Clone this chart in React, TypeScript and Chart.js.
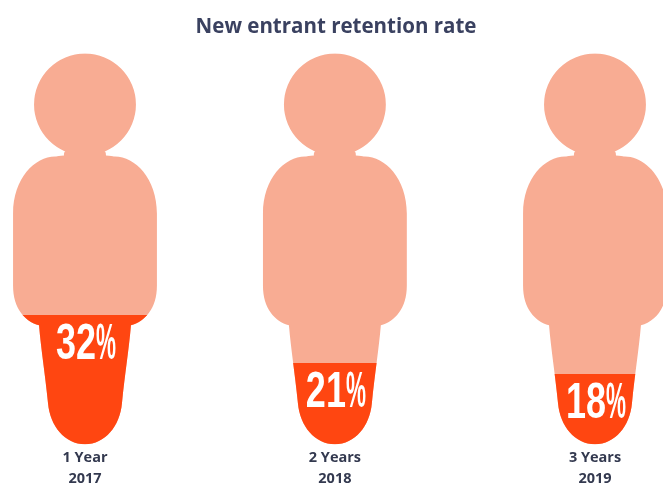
import React, { useEffect, useRef } from "react";
import { Chart, registerables } from "chart.js";

Chart.register(...registerables);

const TITLE = "New entrant retention rate";
const CATEGORY_LABELS = [["1 Year", "2017"], ["2 Years", "2018"], ["3 Years", "2019"]];
const VALUE_LABELS = ["32%", "21%", "18%"];
const SLOTS = [0, 0.98, 2];
const FILL_LEVELS = [33, 20.7, 17.9];
const WHOLE = [100, 100, 100];

const H = 391;

function addPerson(ctx: CanvasRenderingContext2D, cx: number, top: number, k: number) {
  const X = (d: number) => cx + d * k;
  const Y = (d: number) => top + d * k;
  ctx.moveTo(X(51), Y(51));
  ctx.arc(X(0), Y(51), 51 * k, 0, Math.PI * 2);
  ctx.closePath();
  const right: number[][] = [
    [21, 97, 21, 97, 21, 102],
    [30, 103, 30, 103, 30, 103],
    [50, 103, 72, 125, 72, 160],
    [72, 180, 72, 210, 72, 232],
    [72, 255, 60, 268, 46, 272],
    [44, 296, 40, 320, 37, 350],
    [35, 373, 20, 391, 0, 391],
  ];
  ctx.moveTo(X(0), Y(97));
  for (const s of right) ctx.bezierCurveTo(X(s[0]), Y(s[1]), X(s[2]), Y(s[3]), X(s[4]), Y(s[5]));
  const pts = [[0, 97], ...right.map((s) => [s[4], s[5]])];
  for (let i = right.length - 1; i >= 0; i--) {
    const s = right[i];
    ctx.bezierCurveTo(X(-s[2]), Y(s[3]), X(-s[0]), Y(s[1]), X(-pts[i][0]), Y(pts[i][1]));
  }
  ctx.closePath();
}

function drawValue(ctx: CanvasRenderingContext2D, text: string, x: number, y: number) {
  const digits = text.replace("%", "");
  const dScale = 0.72;
  const pScale = 0.45;
  ctx.fillStyle = "#ffffff";
  ctx.font = 'bold 50px "Liberation Sans"';
  ctx.textAlign = "left";
  ctx.textBaseline = "middle";
  const dw = ctx.measureText(digits).width * dScale;
  const pw = ctx.measureText("%").width * pScale;
  const left = x + 1 - (dw + pw) / 2;
  ctx.save();
  ctx.translate(left, y);
  ctx.scale(dScale, 1);
  ctx.fillText(digits, 0, 0);
  ctx.restore();
  ctx.save();
  ctx.translate(left + dw, y);
  ctx.scale(pScale, 1);
  ctx.fillText("%", 0, 0);
  ctx.restore();
}

const personClip = {
  id: "personClip",
  beforeDatasetsDraw(chart: any) {
    const { ctx, scales } = chart;
    const top = scales.y.getPixelForValue(100);
    const k = (scales.y.getPixelForValue(0) - top) / H;
    ctx.save();
    ctx.beginPath();
    chart.getDatasetMeta(1).data.forEach((bar: any) => addPerson(ctx, bar.x, top, k));
    ctx.clip();
  },
  afterDatasetsDraw(chart: any) {
    const { ctx } = chart;
    ctx.restore();
    chart.getDatasetMeta(0).data.forEach((bar: any, i: number) => {
      drawValue(ctx, VALUE_LABELS[i], bar.x, bar.y + 30);
    });
  },
};

export default function App() {
  const ref = useRef<HTMLCanvasElement>(null);
  useEffect(() => {
    const chart = new Chart(ref.current!, {
      type: "bar",
      data: {
        datasets: [
          {
            label: "Retained",
            data: SLOTS.map((x, i) => ({ x, y: FILL_LEVELS[i] })),
            backgroundColor: "#FF4611",
            grouped: false,
            barThickness: 146,
            clip: false,
          },
          {
            label: "Entrants",
            data: SLOTS.map((x, i) => ({ x, y: WHOLE[i] })),
            backgroundColor: "#F8AC93",
            grouped: false,
            barThickness: 146,
            clip: false,
          },
        ],
      } as any,
      options: {
        responsive: false,
        animation: false,
        layout: { padding: { left: 9, right: 0, top: 0, bottom: -6 } },
        plugins: {
          legend: { display: false },
          tooltip: { enabled: false },
          title: {
            display: true,
            text: TITLE,
            color: "#3A4160",
            font: { family: "Open Sans", size: 20.5, weight: "bold" },
            padding: { top: 15, bottom: 14 },
          },
        },
        scales: {
          x: {
            type: "linear",
            offset: false,
            min: -0.298,
            max: 2.2667,
            grid: { display: false, drawTicks: false },
            border: { display: false },
            afterBuildTicks: (axis: any) => {
              axis.ticks = SLOTS.map((value) => ({ value }));
            },
            ticks: {
              autoSkip: false,
              maxRotation: 0,
              padding: 3,
              color: "#33394F",
              font: { family: "Open Sans", size: 14.5, weight: "bold", lineHeight: 1.44 },
              callback: (_v: any, i: number) => CATEGORY_LABELS[i],
            },
          },
          y: { display: false, min: 0, max: 100 },
        },
      } as any,
      plugins: [personClip],
    });
    return () => chart.destroy();
  }, []);
  return (
    <div style={{ position: "absolute", left: 0, top: 0, width: 663, height: 486, background: "#fff" }}>
      <canvas ref={ref} width={663} height={486} style={{ display: "block", filter: "blur(0.5px)" }} />
    </div>
  );
}
